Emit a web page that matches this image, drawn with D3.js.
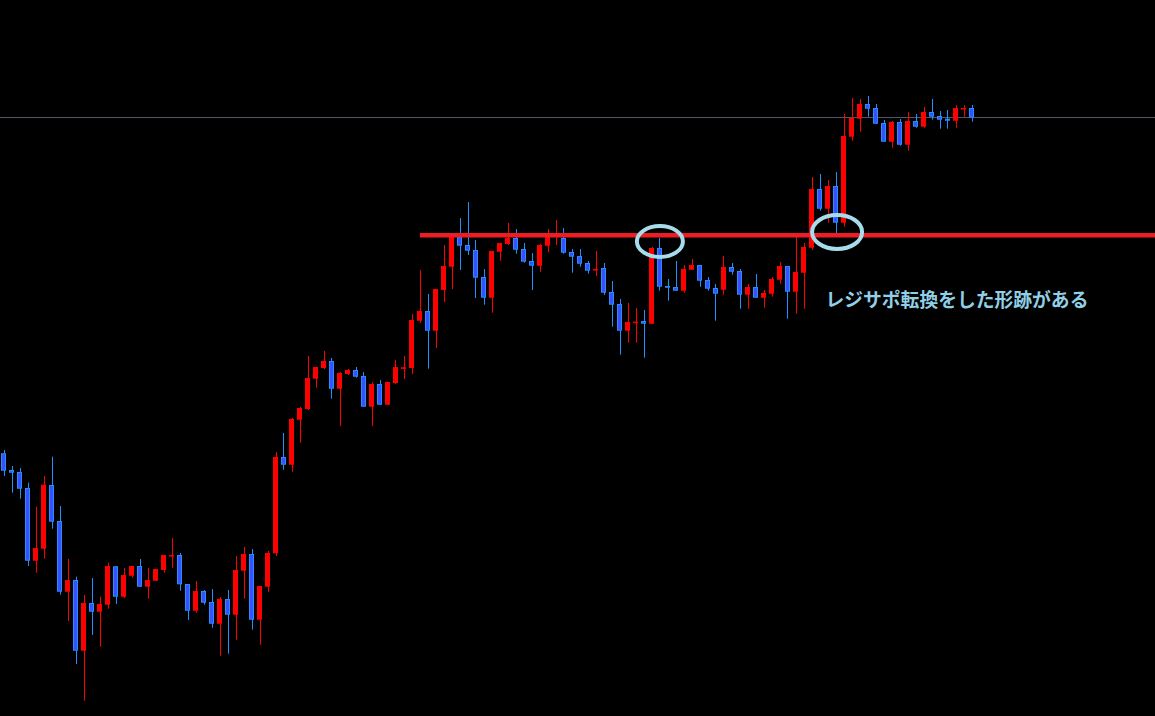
<!DOCTYPE html>
<html>
<head>
<meta charset="utf-8">
<script src="https://cdn.jsdelivr.net/npm/d3@7"></script>
<style>
html,body{margin:0;padding:0;background:#000;overflow:hidden;}
svg{display:block;}
</style>
</head>
<body>
<svg id="chart" width="1155" height="716"></svg>
<script>
// ---- data (price units) ----
const opens = [262.7,246,244,228,155.3,167.3,231,195,124.3,136,65.3,113,104.3,111.3,149.7,119.3,140.3,150,129.3,135.3,
146,161,161,132,105.3,125,114,92.3,117,101.3,145.3,162,96.3,129.3,162.7,259,251.3,296.3,307,337.3,
348,355,327.3,342,346,340,309.3,332,311.3,333,348.7,348,395.3,405,385.3,426,449.3,479,471,466,
439,418.3,464.3,472,478,467,455,450.3,470.3,479,478,464,460,453,447,448,424,412,385.3,394.3,
395,392.3,468,430,429,425.3,446.3,451,436,428,426.3,449,445,421.3,429,418.3,422.3,436.3,450,424.3,
443.3,468.3,527,507.3,530,493.3,579.3,597.3,612,608,593,574.3,594,571.3,595,589.3,604,600,597.3,595.3,
608,608];
const highs = [266,250,248,233.3,209.3,240,259.3,210,157,139.3,121,138,119.3,153.3,150,148,150,157,148,147,
161,178,163,132,135,126,127,119,126,160,169,167,130,165,264,283,298,309,360,349,
365,358,344,347,349,344,334,336,334,356,360,402,446,422,427,471,479,498,514,476,
447,465,473,493,487,473,463,472,487,496,488,467,467,455,465,453,435,417,413,408,
406,469,478,437,455,451,457,451,439,432,460,453,447,432,442,426,439,454,450,479,
473,539,542,536,544,602,618,617,620,612,596,595,597,604,602,609,617,605,606,611,
611,611];
const lows = [240,223.3,217.3,150,143.3,157.3,187.3,121.3,95,52,15.3,81,69.3,107.3,112,118,138.3,129,117.3,135.3,
143.3,148.3,125.3,96,103.3,111.3,88.3,60.3,62.3,76.3,117.3,86.3,71.3,124.3,160,246.3,244.3,273.3,306,328.3,
347,317.3,290,341,338.3,309.3,290,311.3,311.3,332,337,342,393.3,347.3,368,414,427,446,461,418,
411.3,403.3,455.3,471,462.3,453.3,426,444.3,464,471,462.3,443.3,449.3,442.3,440,421,389.3,361.3,373.3,373.3,
358.3,392.3,425.3,415.3,425.3,423.3,446.3,429.3,425.3,395.3,421.3,441.3,407.3,407.3,418.3,408.3,419.3,432.3,397.3,402.3,
407.3,466,505.3,493.3,482.7,489.3,575.3,584.3,599.3,592.3,574.3,568.3,570.3,565.3,588.3,588.3,596.3,587.3,587.3,588.3,
599.3,594.3];
const closes = [245.3,243.3,227.3,155.3,168,231.3,194.3,124.3,136,65.3,113,104.3,112,150,119.3,141,150,129.3,136,147,
161,161,131.7,105.3,125,113.3,92.3,117,101.3,146,162,96.3,130,163,259,251.3,297,308,338,349,
355,327.3,343,346,339.3,309.3,332,311.3,334,349,348.7,396,405,385.3,427,450,479,470.3,465.3,438.3,
418.3,465,473,478,466.3,454.3,450.3,471,479,482,463.3,459.3,452.3,445.3,447,423.3,411.3,385.3,394,394.3,
392.3,468,429.3,428.3,425.3,447,451,435.3,427.3,422.3,449,444.3,421.3,429,418.3,423,437,450,424.3,444,
469,527,507.3,530,493.3,580,598,612,607.3,592.3,574.3,594,571.3,595,589.3,604,599.3,596.3,595.3,608,
608,598.3];

const priceLine = 599;          // thin grey current-price line
const levelLine = 480.7;        // red support/resistance line
const levelStartIndex = 52;     // candle where red line begins
const circles = [ {index: 82.05, price: 474.5}, {index: 104.2, price: 484} ];
const noteText = "レジサポ転換をした形跡がある";

// ---- drawing ----
const W = 1155, H = 716;
const svg = d3.select("#chart");
svg.append("rect").attr("width", W).attr("height", H).attr("fill", "#000");

const n = opens.length;
const x = d3.scaleLinear().domain([0, n - 1]).range([3.5, 971.5]);
const y = d3.scaleLinear().domain([0, 716]).range([716, 0]);

const data = d3.range(n).map(i => ({i, o: opens[i], h: highs[i], l: lows[i], c: closes[i]}));
const up = d => d.c >= d.o;
const bodyW = 5;

// grey price line
svg.append("line")
  .attr("x1", 0).attr("x2", W)
  .attr("y1", Math.round(y(priceLine)) + 0.5).attr("y2", Math.round(y(priceLine)) + 0.5)
  .attr("stroke", "#55566a").attr("stroke-width", 1);

const g = svg.append("g");
// wicks
g.selectAll("line.wick").data(data).join("line")
  .attr("class", "wick")
  .attr("x1", d => Math.round(x(d.i)) + 0.5).attr("x2", d => Math.round(x(d.i)) + 0.5)
  .attr("y1", d => y(d.h)).attr("y2", d => y(d.l))
  .attr("stroke", d => up(d) ? "#ff0000" : "#1e90ff")
  .attr("stroke-width", 1);
// bodies
g.selectAll("rect.body").data(data).join("rect")
  .attr("class", "body")
  .attr("x", d => Math.round(x(d.i) - bodyW / 2) + 0.5)
  .attr("width", bodyW - 1)
  .attr("y", d => Math.min(y(d.o), y(d.c)) + 0.5)
  .attr("height", d => Math.max(0.5, Math.abs(y(d.o) - y(d.c)) - 1))
  .attr("fill", d => up(d) ? "#ff0000" : "#3c4eff")
  .attr("stroke", d => up(d) ? "#ff0000" : "#1e90ff")
  .attr("stroke-width", 1);

// red level line
svg.append("line")
  .attr("x1", x(levelStartIndex) + 0.5).attr("x2", W)
  .attr("y1", y(levelLine)).attr("y2", y(levelLine))
  .attr("stroke", "#ee1c25").attr("stroke-width", 4.5);

// highlight ellipses
svg.selectAll("ellipse.mark").data(circles).join("ellipse")
  .attr("class", "mark")
  .attr("cx", d => x(d.index)).attr("cy", d => y(d.price))
  .attr("rx", (d, k) => k === 0 ? 23 : 25)
  .attr("ry", (d, k) => k === 0 ? 15.5 : 17)
  .attr("fill", "none")
  .attr("stroke", "#a6dceb").attr("stroke-width", 4);

// annotation text
svg.append("text")
  .attr("x", 825.5).attr("y", 298.5)
  .attr("dominant-baseline", "central")
  .attr("font-family", "'Noto Sans CJK JP', sans-serif")
  .attr("font-weight", "bold")
  .attr("font-size", 18.8)
  .attr("fill", "#90cfe6")
  .text(noteText);
</script>
</body>
</html>
